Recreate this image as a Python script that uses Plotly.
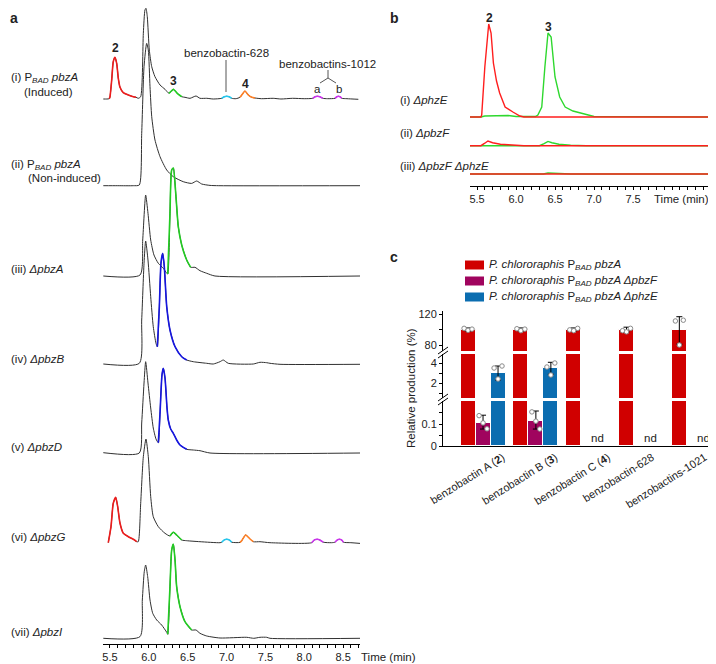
import numpy as np
import plotly.graph_objects as go

PAGE_W, PAGE_H = 716, 664
OFF = 8                      # default page (body) margin of the written html
FW, FH = PAGE_W - OFF, PAGE_H - OFF
FONT = "Liberation Sans, Arial, sans-serif"

# ================= DATA =================
# ---- panel a: LC traces, (retention time [min], relative intensity) ----
a_i = [(5.414, 0), (5.46, 0), (5.491, 0.3), (5.500, 2.3), (5.522, 19), (5.542, 37.3), (5.564, 41.7),
       (5.586, 35.7), (5.607, 20.7), (5.629, 11.7), (5.671, 6.3), (5.736, 4), (5.800, 2.3), (5.835, 1.7),
       (5.864, 0.7), (5.895, 2.3), (5.929, 65.7), (5.950, 89), (5.963, 90.7), (5.980, 82.3), (6.006, 49),
       (6.037, 32.3), (6.079, 22.3), (6.144, 14), (6.208, 9.7), (6.259, 5.7), (6.29, 8), (6.315, 9.7),
       (6.34, 8), (6.366, 5.7), (6.423, 2.3), (6.465, 1.7), (6.530, 0.7), (6.607, 3), (6.658, 0.7),
       (6.745, 0.7), (6.829, 0), (6.938, 0.7), (6.97, 2.2), (7.002, 2.7), (7.035, 2.2), (7.066, 0.7),
       (7.12, 0.3), (7.173, 1.7), (7.205, 5), (7.237, 8), (7.28, 4), (7.324, 1.7), (7.366, 1), (7.45, 0.3),
       (7.6, 0.7), (7.7, 0), (7.85, 0.7), (8.0, 0.3), (8.109, 0.7), (8.14, 2.3), (8.168, 2.7), (8.2, 2.3),
       (8.238, 0.7), (8.3, 0.3), (8.396, 0.7), (8.42, 2.3), (8.438, 2.7), (8.46, 2.3), (8.482, 0.7),
       (8.55, 0.3), (8.696, -0.3)]
a_ii = [(5.414, 0), (5.6, 0), (5.8, 0), (5.877, 0.7), (5.908, 52.3), (5.938, 119), (5.972, 142.3),
        (5.993, 135.7), (6.015, 99), (6.037, 69), (6.079, 45.7), (6.144, 29), (6.23, 15.7), (6.315, 9),
        (6.443, 4), (6.551, 2.3), (6.616, 4.7), (6.68, 1.7), (6.787, 0.3), (6.9, 0), (8.718, 0)]
a_iii = [(5.414, 0), (5.886, 1), (5.921, 36), (5.959, 81), (5.989, 62.7), (6.024, 36), (6.066, 21),
         (6.122, 12.7), (6.186, 7.7), (6.23, 2.7), (6.243, 2), (6.272, 62.7), (6.294, 106), (6.315, 108),
         (6.346, 82.7), (6.379, 49.3), (6.423, 31), (6.487, 16), (6.539, 8.7), (6.594, 8.7), (6.658, 5.3),
         (6.745, 2.7), (6.851, 0), (8.718, 0)]
a_iv = [(5.414, 0), (5.877, 0.7), (5.908, 44), (5.938, 100.7), (5.959, 123), (5.989, 104), (6.024, 67.3),
        (6.057, 37.3), (6.092, 20.7), (6.109, 17.3), (6.135, 57.3), (6.156, 100.7), (6.178, 110.7),
        (6.199, 97.3), (6.23, 57.3), (6.272, 34), (6.337, 17.3), (6.423, 7.3), (6.487, 4), (6.572, 2.3),
        (6.745, 0.7), (6.829, 0), (6.916, 2.3), (6.958, 4), (7.022, 0.7), (7.344, 0), (7.43, 1.7),
        (7.517, 1.3), (7.559, 0.7), (7.688, -0.3), (8.718, -0.3)]
a_v = [(5.414, 0.3), (5.877, 0), (5.908, 30), (5.938, 70), (5.959, 91.3), (5.989, 70), (6.024, 45),
       (6.057, 25), (6.092, 14), (6.122, 10.3), (6.144, 40), (6.169, 78), (6.186, 84.7), (6.208, 75),
       (6.234, 45), (6.25, 33), (6.281, 24), (6.315, 19.7), (6.358, 13), (6.401, 8), (6.487, 3.7),
       (6.572, 3), (6.658, 2.3), (6.787, 0), (8.718, 0)]
a_vi = [(5.478, 0), (5.513, 16), (5.542, 39.4), (5.573, 45.4), (5.599, 36), (5.629, 19.4), (5.671, 9.4),
        (5.736, 6), (5.8, 3.4), (5.844, 1), (5.864, 1), (5.895, 39.4), (5.929, 86), (5.963, 103.7),
        (5.993, 86), (6.024, 46), (6.057, 26), (6.122, 16), (6.208, 9.4), (6.272, 6.7), (6.315, 10.4),
        (6.358, 7.7), (6.423, 2.7), (6.487, 2), (6.658, 1), (6.916, 0), (6.938, 0.5), (6.97, 2.8),
        (7.002, 3.4), (7.035, 2.8), (7.066, 0.5), (7.173, 0.3), (7.195, 2), (7.246, 7.7), (7.302, 3.7),
        (7.344, 1), (7.43, 1), (7.559, 0), (8.096, 0), (8.13, 2.8), (8.168, 3.4), (8.2, 2.8), (8.245, 0.5),
        (8.35, 0), (8.396, 0.5), (8.425, 2.8), (8.451, 3.4), (8.48, 2.8), (8.503, 0.5), (8.6, 0),
        (8.718, -0.7)]
a_vii = [(5.414, 0), (5.886, 1.7), (5.916, 38.3), (5.941, 66.6), (5.959, 73.3), (5.985, 61.6),
         (6.015, 38.3), (6.05, 25), (6.101, 18.3), (6.165, 13.3), (6.23, 6), (6.243, 4), (6.272, 51.6),
         (6.294, 88.3), (6.315, 94.3), (6.337, 78.3), (6.358, 51.6), (6.401, 31.6), (6.465, 16.6),
         (6.551, 8.3), (6.607, 8.3), (6.658, 5), (6.745, 2.3), (6.916, 0.3), (7.26, 1), (7.35, 0),
         (7.43, 1), (7.517, 1), (7.559, 0), (8.718, 0)]

# compound windows (compound id, start min, end min)
a_i_segments = [("2", 5.491, 5.835), ("3", 6.259, 6.423), ("628", 6.938, 7.066), ("4", 7.173, 7.366),
                ("1012", 8.109, 8.238), ("1012", 8.396, 8.482)]
a_ii_segments = []
a_iii_segments = [("3", 6.243, 6.539)]
a_iv_segments = [("1", 6.109, 6.487)]
a_v_segments = [("1", 6.122, 6.487)]
a_vi_segments = [("2", 5.478, 5.844), ("3", 6.272, 6.423), ("628", 6.938, 7.066), ("4", 7.173, 7.344),
                 ("1012", 8.096, 8.245), ("1012", 8.396, 8.503)]
a_vii_segments = [("3", 6.243, 6.551)]

a_strain_labels = ["(i) P<sub><i>BAD</i></sub> <i>pbzA</i>", "(Induced)",
                   "(ii) P<sub><i>BAD</i></sub> <i>pbzA</i>", "(Non-induced)",
                   "(iii) <i>ΔpbzA</i>", "(iv) <i>ΔpbzB</i>", "(v) <i>ΔpbzD</i>",
                   "(vi) <i>ΔpbzG</i>", "(vii) <i>ΔpbzI</i>"]

# ---- panel b ----
b_i_red = [(5.41, 0), (5.55, 0), (5.56, 2), (5.60, 50), (5.65, 93), (5.68, 84), (5.71, 54), (5.75, 36),
           (5.79, 24), (5.86, 10), (5.96, 5), (6.05, 1), (6.1, 0), (8.47, 0)]
b_i_green = [(5.41, 0), (5.55, 0), (5.6, 1), (5.9, 1.5), (6.0, 0.5), (6.25, 0.5), (6.28, 2), (6.33, 10),
             (6.37, 50), (6.41, 84), (6.45, 80), (6.50, 40), (6.56, 20), (6.63, 10), (6.73, 6), (6.91, 2),
             (7.0, 0.5), (8.47, 0)]
b_ii_red = [(5.41, 0), (5.55, 0), (5.6, 2.5), (5.64, 4.7), (5.7, 3), (5.8, 1.5), (5.9, 1), (6.0, 0.7),
            (6.1, 0), (8.47, 0)]
b_ii_green = [(5.41, 0), (6.3, 0), (6.36, 2), (6.41, 4.3), (6.46, 3), (6.55, 1.5), (6.7, 0.5), (6.9, 0),
              (8.47, 0)]
b_iii_red = [(5.41, 0), (8.47, 0)]
b_iii_green = [(5.41, 0), (6.35, 0), (6.41, 1), (6.5, 0.7), (6.65, 0.3), (6.7, 0), (8.47, 0)]
b_strain_labels = ["(i) <i>ΔphzE</i>", "(ii) <i>ΔpbzF</i>", "(iii) <i>ΔpbzF ΔphzE</i>"]

# ---- panel c ----
c_categories = ["benzobactin A (<b>2</b>)", "benzobactin B (<b>3</b>)", "benzobactin C (<b>4</b>)",
                "benzobactin-628", "benzobactins-1021"]
c_series = ["<i>P. chlororaphis</i> P<sub><i>BAD</i></sub> <i>pbzA</i>",
            "<i>P. chlororaphis</i> P<sub><i>BAD</i></sub> <i>pbzA ΔpbzF</i>",
            "<i>P. chlororaphis</i> P<sub><i>BAD</i></sub> <i>pbzA ΔphzE</i>"]
c_wt = [100, 100, 100, 100, 100]
c_wt_err_up = [2, 2, 2, 3, 16.5]
c_wt_err_dn = [2, 2, 2, 3, 19]
c_wt_points = [[101.5, 99, 100.5], [101, 98.5, 100.5], [99.5, 98.5, 101.5], [98.5, 97, 101.5], [111, 80, 112]]
c_pbzF = [0.106, 0.115, None, None, None]
c_pbzF_err_up = [0.034, 0.044, None, None, None]
c_pbzF_err_dn = [0.029, 0.038, None, None, None]
c_pbzF_points = [[0.138, 0.105, 0.078], [0.155, 0.113, 0.077], None, None, None]
c_phzE = [2.97, 3.47, None, None, None]
c_phzE_err_up = [0.73, 0.6, None, None, None]
c_phzE_err_dn = [0.67, 0.6, None, None, None]
c_phzE_points = [[3.5, 2.4, 3.7], [3.6, 2.8, 4.0], None, None, None]
c_nd = [None, None, "nd", "nd", "nd"]

# ================= STYLE / LAYOUT =================
def X(p):
    """page pixel -> paper x"""
    return (p - OFF) / FW


def Y(p):
    """page pixel -> paper y"""
    return 1 - (p - OFF) / FH


COL = {"1": "#1616E0", "2": "#EE1C1C", "3": "#22CC22", "4": "#FF7F24", "628": "#22C8F0", "1012": "#CC33EE"}
A_TRACES = [a_i, a_ii, a_iii, a_iv, a_v, a_vi, a_vii]
A_SEGS = [a_i_segments, a_ii_segments, a_iii_segments, a_iv_segments, a_v_segments, a_vi_segments,
          a_vii_segments]
A_OFFSETS = [545, 458.3, 368, 280, 191, 101.3, 5.7]

fig = go.Figure()

for pairs, segs, off in zip(A_TRACES, A_SEGS, A_OFFSETS):
    fig.add_trace(go.Scatter(x=[p[0] for p in pairs], y=[p[1] + off for p in pairs], mode="lines",
                             line=dict(color="#303030", width=1, shape="spline", smoothing=0.6),
                             xaxis="x", yaxis="y", hoverinfo="skip"))
    for comp, t0, t1 in segs:
        sub = [p for p in pairs if t0 - 1e-9 <= p[0] <= t1 + 1e-9]
        fig.add_trace(go.Scatter(x=[p[0] for p in sub], y=[p[1] + off for p in sub], mode="lines",
                                 line=dict(color=COL[comp], width=1.6, shape="spline", smoothing=0.6),
                                 xaxis="x", yaxis="y", hoverinfo="skip"))

B_OFFSETS = [69, 40.3, 12]
for (red, green), off in zip([(b_i_red, b_i_green), (b_ii_red, b_ii_green), (b_iii_red, b_iii_green)],
                             B_OFFSETS):
    fig.add_trace(go.Scatter(x=[p[0] for p in green], y=[p[1] + off for p in green], mode="lines",
                             line=dict(color="#2ED82E", width=1.4), xaxis="x2", yaxis="y2"))
    fig.add_trace(go.Scatter(x=[p[0] for p in red], y=[p[1] + off for p in red], mode="lines",
                             line=dict(color="#FF1E1E", width=1.4), xaxis="x2", yaxis="y2"))

# panel c bars on three broken y axes
BAR_COLORS = ["#D00000", "#A0045E", "#0B6DB0"]
SLOT = [-0.284, 0.0, 0.284]
JIT = [-0.075, 0.0, 0.075]
c_data = [(c_wt, c_wt_err_up, c_wt_err_dn, c_wt_points, "y5"),
          (c_pbzF, c_pbzF_err_up, c_pbzF_err_dn, c_pbzF_points, "y3"),
          (c_phzE, c_phzE_err_up, c_phzE_err_dn, c_phzE_points, "y4")]
for k, (vals, eu, ed, pts, eax) in enumerate(c_data):
    xs = [i + SLOT[k] for i in range(len(c_categories))]
    for ax in ["y3", "y4", "y5"]:
        err = dict(type="data", array=eu, arrayminus=ed, color="black", thickness=1, width=3) if ax == eax else None
        fig.add_trace(go.Bar(x=xs, y=vals, width=0.284, xaxis="x3", yaxis=ax,
                             marker=dict(color=BAR_COLORS[k], line=dict(color="white", width=1)),
                             error_y=err, hoverinfo="skip"))
    dx, dy = [], []
    for i, p in enumerate(pts):
        if p is None:
            continue
        for j, v in enumerate(p):
            dx.append(i + SLOT[k] + JIT[j])
            dy.append(v)
    fig.add_trace(go.Scatter(x=dx, y=dy, mode="markers", xaxis="x3", yaxis=eax,
                             marker=dict(size=4.5, color="white", line=dict(color="#8a8a8a", width=1))))

tick_a = [round(5.5 + 0.1 * i, 1) for i in range(33)]
tick_b = [round(5.5 + 0.1 * i, 1) for i in range(30)]
lab_a = [f"{v:.1f}" if round(v * 10) % 5 == 0 else "" for v in tick_a]
lab_b = [f"{v:.1f}" if (round(v * 10) % 5 == 0 and v < 7.9) else "" for v in tick_b]
# label anchor shift for each category (layout only)
C_LABEL_SHIFT = [0.37, 0.37, 0.37, 0.2, 0.2]

axcommon = dict(showgrid=False, zeroline=False, showline=True, linecolor="black", linewidth=1,
                ticks="outside", tickcolor="black", tickwidth=1, automargin=False,
                tickfont=dict(family=FONT, size=11, color="#222"))

fig.update_layout(
    template="none", width=FW, height=FH, margin=dict(l=0, r=0, t=0, b=0, autoexpand=False),
    paper_bgcolor="white", plot_bgcolor="white", showlegend=False, bargap=0,
    font=dict(family=FONT, size=11, color="#222"),
    xaxis=dict(axcommon, domain=[X(103), X(360)], range=[5.41, 8.7175], anchor="y",
               tickmode="array", tickvals=tick_a, ticktext=lab_a, ticklen=3),
    yaxis=dict(domain=[Y(644), Y(8)], range=[0, 636], visible=False, anchor="x"),
    xaxis2=dict(axcommon, domain=[X(470), X(709)], range=[5.41, 8.474], anchor="y2",
                tickmode="array", tickvals=tick_b, ticktext=lab_b, ticklen=3),
    yaxis2=dict(domain=[Y(186), Y(10)], range=[0, 176], visible=False, anchor="x2"),
    xaxis3=dict(axcommon, domain=[X(443), 1], range=[-0.758, 4.41], anchor="y3", ticks="",
                tickmode="array", tickvals=[i + s for i, s in enumerate(C_LABEL_SHIFT)],
                ticktext=c_categories, tickangle=-32, ticklabeloverflow="allow"),
    yaxis3=dict(axcommon, domain=[Y(446), Y(401)], range=[0, 0.2045], anchor="x3", ticklen=3,
                tickmode="array", tickvals=[0, 0.05, 0.1, 0.15], ticktext=["0", "", "0.1", ""]),
    yaxis4=dict(axcommon, domain=[Y(398), Y(354)], range=[0.5, 4.9], anchor="x3", ticklen=3,
                tickmode="array", tickvals=[1, 2, 3, 4], ticktext=["", "2", "", "4"]),
    yaxis5=dict(axcommon, domain=[Y(351), Y(311)], range=[72.26, 123.87], anchor="x3", ticklen=3,
                tickmode="array", tickvals=[80, 100, 120], ticktext=["80", "", "120"]),
)

anns = []


def ann(text, x, y, size=11, xanchor="left", yanchor="middle", bold=False, **kw):
    if bold:
        text = f"<b>{text}</b>"
    anns.append(dict(text=text, x=X(x), y=Y(y), xref="paper", yref="paper", showarrow=False,
                     xanchor=xanchor, yanchor=yanchor, font=dict(family=FONT, size=size, color="#222"), **kw))


# panel letters
ann("a", 8, 8, size=14, bold=True, yanchor="top")
ann("b", 388, 8, size=14, bold=True, yanchor="top")
ann("c", 388, 257, size=14, bold=True)

# panel a strain labels
a_label_pos = [(9, 78), (22, 92), (9, 165), (26, 178), (9, 269), (9, 359), (9, 447), (9, 537), (9, 632)]
for txt, (x, y) in zip(a_strain_labels, a_label_pos):
    ann(txt, x, y, size=11.5)
# peak labels
ann("2", 115, 48, size=12, xanchor="center", bold=True)
ann("3", 173, 81, size=12, xanchor="center", bold=True)
ann("4", 245, 84, size=12, xanchor="center", bold=True)
ann("benzobactin-628", 226, 53, size=11.5, xanchor="center")
ann("benzobactins-1012", 277, 64, size=11.5)
ann("a", 317, 89, size=11.5, xanchor="center")
ann("b", 339, 89, size=11.5, xanchor="center")
ann("Time (min)", 359, 657, size=11.5)

# panel b labels
for txt, y in zip(b_strain_labels, [100, 133, 166]):
    ann(txt, 398, y, size=11.5)
ann("2", 489, 18, size=12, xanchor="center", bold=True)
ann("3", 548, 27, size=12, xanchor="center", bold=True)
ann("Time (min)", 652, 199, size=11.5)

# panel c
ann("Relative production (%)", 411, 388, size=11.5, xanchor="center", textangle=-90)
leg_rows = [265, 281, 297]
for txt, yy in zip(c_series, leg_rows):
    ann(txt, 487, yy, size=11.5)
for i, t in enumerate(c_nd):
    if t:
        anns.append(dict(text=t, x=i + 0.17, y=0, xref="x3", yref="y3", showarrow=False,
                         xanchor="center", yanchor="bottom", font=dict(family=FONT, size=11.5, color="#222")))
fig.update_layout(annotations=anns)

shapes = []


def line(x0, y0, x1, y1, color="#555", width=1):
    shapes.append(dict(type="line", xref="paper", yref="paper", x0=X(x0), y0=Y(y0), x1=X(x1), y1=Y(y1),
                       line=dict(color=color, width=width)))


line(226, 60, 226, 92)
line(328, 70, 328, 78)
line(328, 78, 320, 83)
line(328, 78, 336, 83)
# axis break marks
for yc in [352.5, 399.5]:
    line(438, yc + 1.5, 448, yc - 5.5, color="black")
    line(438, yc + 5.5, 448, yc - 1.5, color="black")
# legend swatches
for col, yy in zip(BAR_COLORS, leg_rows):
    shapes.append(dict(type="rect", xref="paper", yref="paper", x0=X(465), x1=X(484), y0=Y(yy + 4.5),
                       y1=Y(yy - 4.5), fillcolor=col, line=dict(width=0)))
fig.update_layout(shapes=shapes)

fig.write_html("out.html")
